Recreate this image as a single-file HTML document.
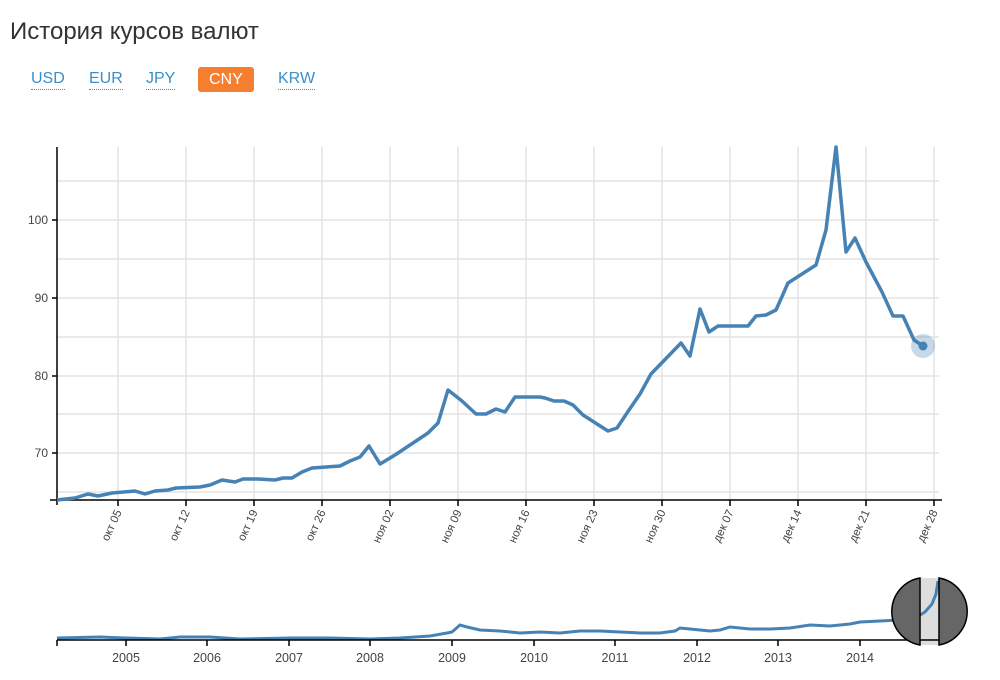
<!DOCTYPE html>
<html><head><meta charset="utf-8"><style>
body{margin:0;background:#fff;width:1000px;height:680px;overflow:hidden;font-family:"Liberation Sans","DejaVu Sans",sans-serif;}
.t{position:absolute;left:10px;top:18px;font-size:24px;color:#333;}
.b{position:absolute;top:69px;font-size:16px;color:#3a8fc8;border-bottom:1px dotted #3a8fc8;line-height:20px;}
.on{background:#f57f2e;color:#fff;border:none;border-radius:3px;padding:0 11px;line-height:25px;top:67px;}
</style></head><body>
<div class="t">История курсов валют</div>
<div class="b" style="left:31px">USD</div>
<div class="b" style="left:89px">EUR</div>
<div class="b" style="left:146px">JPY</div>
<div class="b on" style="left:198px">CNY</div>
<div class="b" style="left:278px">KRW</div>
<svg width="1000" height="680" style="position:absolute;left:0;top:0" font-family="Liberation Sans, sans-serif">
<g stroke="#e3e3e3" stroke-width="1.5">
<line x1="57" x2="939" y1="181" y2="181"/><line x1="57" x2="939" y1="220" y2="220"/><line x1="57" x2="939" y1="259" y2="259"/><line x1="57" x2="939" y1="298" y2="298"/><line x1="57" x2="939" y1="337" y2="337"/><line x1="57" x2="939" y1="376" y2="376"/><line x1="57" x2="939" y1="414" y2="414"/><line x1="57" x2="939" y1="453" y2="453"/><line x1="57" x2="939" y1="492" y2="492"/>
<line x1="118" x2="118" y1="147" y2="500"/><line x1="186" x2="186" y1="147" y2="500"/><line x1="254" x2="254" y1="147" y2="500"/><line x1="322" x2="322" y1="147" y2="500"/><line x1="390" x2="390" y1="147" y2="500"/><line x1="458" x2="458" y1="147" y2="500"/><line x1="526" x2="526" y1="147" y2="500"/><line x1="594" x2="594" y1="147" y2="500"/><line x1="662" x2="662" y1="147" y2="500"/><line x1="730" x2="730" y1="147" y2="500"/><line x1="798" x2="798" y1="147" y2="500"/><line x1="866" x2="866" y1="147" y2="500"/><line x1="934" x2="934" y1="147" y2="500"/>
</g>
<g stroke="#000" stroke-width="1.5" fill="none">
<line x1="57" x2="57" y1="147" y2="505"/><line x1="50" x2="942" y1="500" y2="500"/>
<line x1="52" x2="57" y1="220" y2="220"/><line x1="52" x2="57" y1="298" y2="298"/><line x1="52" x2="57" y1="376" y2="376"/><line x1="52" x2="57" y1="453" y2="453"/>
<path d="M118 500v6M186 500v6M254 500v6M322 500v6M390 500v6M458 500v6M526 500v6M594 500v6M662 500v6M730 500v6M798 500v6M866 500v6M934 500v6"/>
</g>
<g font-size="12" fill="#444" text-anchor="end">
<text x="48" y="224">100</text><text x="48" y="302">90</text><text x="48" y="380">80</text><text x="48" y="457">70</text>
</g>
<g font-size="11.5" fill="#444" text-anchor="end">
<text transform="translate(122,512) rotate(-65)">окт 05</text>
<text transform="translate(190,512) rotate(-65)">окт 12</text>
<text transform="translate(258,512) rotate(-65)">окт 19</text>
<text transform="translate(326,512) rotate(-65)">окт 26</text>
<text transform="translate(394,512) rotate(-65)">ноя 02</text>
<text transform="translate(462,512) rotate(-65)">ноя 09</text>
<text transform="translate(530,512) rotate(-65)">ноя 16</text>
<text transform="translate(598,512) rotate(-65)">ноя 23</text>
<text transform="translate(666,512) rotate(-65)">ноя 30</text>
<text transform="translate(734,512) rotate(-65)">дек 07</text>
<text transform="translate(802,512) rotate(-65)">дек 14</text>
<text transform="translate(870,512) rotate(-65)">дек 21</text>
<text transform="translate(938,512) rotate(-65)">дек 28</text>
</g>
<polyline fill="none" stroke="#4682b4" stroke-width="3.5" stroke-linejoin="round" points="57,500 75,498 88,494 98,496 112,493 135,491 145,494 155,491 168,490 176,488 200,487 210,485 222,480 235,482 243,479 258,479 275,480 283,478 292,478 302,472 312,468 340,466 350,461 360,457 369,446 380,464 395,455 428,433 438,423 448,390 462,401 476,414 486,414 496,409 505,412 515,397 540,397 545,398 554,401 564,401 573,405 583,415 608,431 617,428 629,410 640,394 651,374 681,343 690,356 700,309 709,332 718,326 748,326 756,316 766,315 776,310 788,283 816,265 826,230 836,147 846,252 855,238 866,262 882,292 893,316 903,316 914,340 923,346"/>
<circle cx="923" cy="346" r="12" fill="#4682b4" opacity="0.3"/>
<circle cx="923" cy="346" r="4.5" fill="#4682b4"/>
<rect x="920" y="578" width="19" height="67" fill="#ddd"/>
<polyline fill="none" stroke="#4682b4" stroke-width="3" points="57,638 100,637 125,638 160,639 180,637 210,637 240,639 290,638 330,638 370,639 400,638 430,636 447,633 452,632 460,625 467,627 480,630 500,631 520,633 540,632 560,633 580,631 600,631 620,632 640,633 660,633 675,631 680,628 690,629 700,630 710,631 720,630 730,627 750,629 770,629 790,628 810,625 830,626 850,624 860,622 880,621 900,620 915,618 925,612 932,604 936,594 938,581"/>
<g stroke="#000" stroke-width="1.5">
<line x1="57" x2="940" y1="640" y2="640"/>
<path d="M57 640v6M126 640v6M207 640v6M289 640v6M370 640v6M452 640v6M534 640v6M615 640v6M697 640v6M778 640v6M860 640v6"/>
<path d="M920 578 A34 34 0 0 0 920 645 Z" fill="#666"/>
<path d="M939 578 A34 34 0 0 1 939 645 Z" fill="#666"/>
</g>
<g font-size="12.5" fill="#444" text-anchor="middle">
<text x="126" y="662">2005</text><text x="207" y="662">2006</text><text x="289" y="662">2007</text><text x="370" y="662">2008</text><text x="452" y="662">2009</text><text x="534" y="662">2010</text><text x="615" y="662">2011</text><text x="697" y="662">2012</text><text x="778" y="662">2013</text><text x="860" y="662">2014</text>
</g>
</svg>
</body></html>
